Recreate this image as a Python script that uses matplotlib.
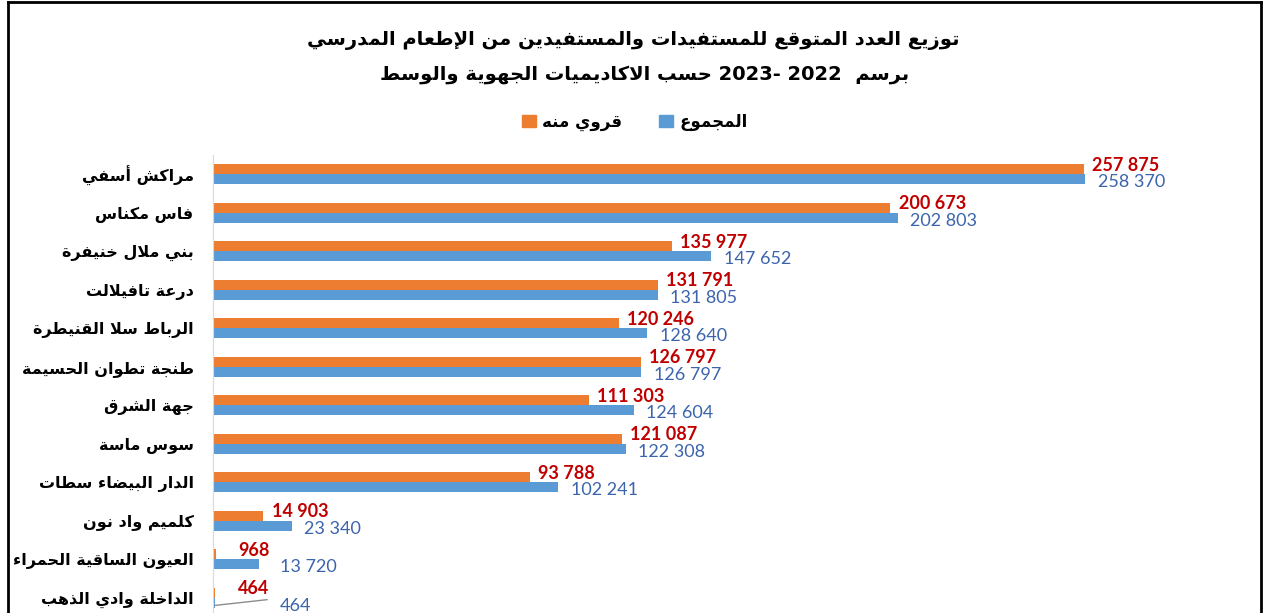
import re
import matplotlib
matplotlib.use('Agg')
import matplotlib.pyplot as plt
from matplotlib.patches import Patch
from matplotlib.lines import Line2D

# --- data ---
regions = ['مراكش أسفي', 'فاس مكناس', 'بني ملال خنيفرة', 'درعة تافيلالت',
           'الرباط سلا القنيطرة', 'طنجة تطوان الحسيمة', 'جهة الشرق', 'سوس ماسة',
           'الدار البيضاء سطات', 'كلميم واد نون', 'العيون الساقية الحمراء',
           'الداخلة وادي الذهب']
total = [258370, 202803, 147652, 131805, 128640, 126797, 124604, 122308,
         102241, 23340, 13720, 464]
rural = [257875, 200673, 135977, 131791, 120246, 126797, 111303, 121087,
         93788, 14903, 968, 464]
series_names = ['المجموع', 'قروي منه']
title_lines = ['توزيع العدد المتوقع للمستفيدات والمستفيدين من الإطعام المدرسي',
               'برسم  2022 -2023 حسب الاكاديميات الجهوية والوسط']

# --- arabic shaping (presentation forms) + simple RTL reordering ---
TWO = {'\u0622': 0xFE81, '\u0623': 0xFE83, '\u0624': 0xFE85, '\u0625': 0xFE87,
       '\u0627': 0xFE8D, '\u0629': 0xFE93, '\u062F': 0xFEA9, '\u0630': 0xFEAB,
       '\u0631': 0xFEAD, '\u0632': 0xFEAF, '\u0648': 0xFEED, '\u0649': 0xFEEF}
FOUR = {'\u0626': 0xFE89, '\u0628': 0xFE8F, '\u062A': 0xFE95, '\u062B': 0xFE99,
        '\u062C': 0xFE9D, '\u062D': 0xFEA1, '\u062E': 0xFEA5, '\u0633': 0xFEB1,
        '\u0634': 0xFEB5, '\u0635': 0xFEB9, '\u0636': 0xFEBD, '\u0637': 0xFEC1,
        '\u0638': 0xFEC5, '\u0639': 0xFEC9, '\u063A': 0xFECD, '\u0641': 0xFED1,
        '\u0642': 0xFED5, '\u0643': 0xFED9, '\u0644': 0xFEDD, '\u0645': 0xFEE1,
        '\u0646': 0xFEE5, '\u0647': 0xFEE9, '\u064A': 0xFEF1}
LAMALEF = {'\u0622': 0xFEF5, '\u0623': 0xFEF7, '\u0625': 0xFEF9, '\u0627': 0xFEFB}


def shape(text):
    units = []
    i = 0
    while i < len(text):
        c = text[i]
        if c == '\u0644' and i + 1 < len(text) and text[i + 1] in LAMALEF:
            units.append(('LA', text[i + 1]))
            i += 2
        else:
            units.append(('C', c))
            i += 1

    def joins_next(u):
        return u[0] == 'C' and u[1] in FOUR

    def joins_prev(u):
        return u[0] == 'LA' or u[1] in FOUR or u[1] in TWO

    out = []
    for j, u in enumerate(units):
        prev = units[j - 1] if j > 0 else None
        nxt = units[j + 1] if j + 1 < len(units) else None
        jp = prev is not None and joins_next(prev) and joins_prev(u)
        jn = nxt is not None and joins_next(u) and joins_prev(nxt)
        kind, c = u
        if kind == 'LA':
            out.append(chr(LAMALEF[c] + (1 if jp else 0)))
        elif c in FOUR:
            out.append(chr(FOUR[c] + (3 if jp and jn else 2 if jn else 1 if jp else 0)))
        elif c in TWO:
            out.append(chr(TWO[c] + (1 if jp else 0)))
        elif c == '\u0621':
            out.append('\uFE80')
        else:
            out.append(c)
    return ''.join(out)


def ar(text):
    s = shape(text)[::-1]
    return re.sub(r'\d+', lambda m: m.group()[::-1], s)


def fmt(v):
    return f'{v:,}'.replace(',', ' ')


ORANGE = '#ED7D31'
BLUE = '#5B9BD5'
RED = '#C00000'
BLUE_TXT = '#3B64AD'

fig = plt.figure(figsize=(12.65, 6.13), dpi=100)
W, H = 1265, 613
ax = fig.add_axes([213 / W, -4 / H, 979 / W, 462 / H])

y = list(range(len(regions)))
bh = 0.26
ax.barh([p - bh / 2 for p in y], rural, height=bh, color=ORANGE)
ax.barh([p + bh / 2 for p in y], total, height=bh, color=BLUE)
ax.set_xlim(0, 290000)
ax.set_ylim(len(regions) - 0.5, -0.5)

# value labels
for i, (r, t) in enumerate(zip(rural, total)):
    ax.annotate(fmt(r), (max(r, 5000), i - bh / 2), xytext=(6, 3),
                textcoords='offset points', ha='left', va='center',
                fontsize=13, fontweight='bold', color=RED, family='Lato')
    ax.annotate(fmt(t), (max(t, 16000), i + bh / 2), xytext=(9, -2),
                textcoords='offset points', ha='left', va='center',
                fontsize=13, color=BLUE_TXT, family='Lato')

# leader line for the smallest label
last = len(regions) - 1
ax.plot([rural[last], 16000], [last + 0.2, last + 0.05], color='#8C8C8C', lw=1)

ax.set_yticks(y)
ax.set_yticklabels([ar(r) for r in regions], fontsize=11.5, fontweight='bold',
                   family='DejaVu Sans')
ax.tick_params(axis='y', length=0, pad=14)
ax.set_xticks([])
for s in ['top', 'right', 'bottom']:
    ax.spines[s].set_visible(False)
ax.spines['left'].set_color('#D9D9D9')

# title
fig.text(633 / W, 1 - 41 / H, ar(title_lines[0]), ha='center', va='center',
         fontsize=14, fontweight='bold', family='DejaVu Sans')
fig.text(645 / W, 1 - 75 / H, ar(title_lines[1]), ha='center', va='center',
         fontsize=14, fontweight='bold', family='DejaVu Sans')

# legend: orange item on the left, blue on the right
handles = [Patch(color=ORANGE), Patch(color=BLUE)]
fig.legend(handles, [ar(series_names[1]), ar(series_names[0])], ncol=2,
           loc='center', bbox_to_anchor=(635 / W, 1 - 122 / H), frameon=False,
           prop={'family': 'DejaVu Sans', 'weight': 'bold', 'size': 12},
           handlelength=0.8, handleheight=0.8, handletextpad=0.4,
           columnspacing=2.2)

# chart border (bottom edge falls outside the picture)
lw = 2
fig.add_artist(Line2D([8 / W, 8 / W], [0, 1 - 2 / H], color='black', lw=lw))
fig.add_artist(Line2D([1261 / W, 1261 / W], [0, 1 - 2 / H], color='black', lw=lw))
fig.add_artist(Line2D([8 / W, 1261 / W], [1 - 2 / H, 1 - 2 / H], color='black', lw=lw))

fig.savefig('out.png', dpi=100)
